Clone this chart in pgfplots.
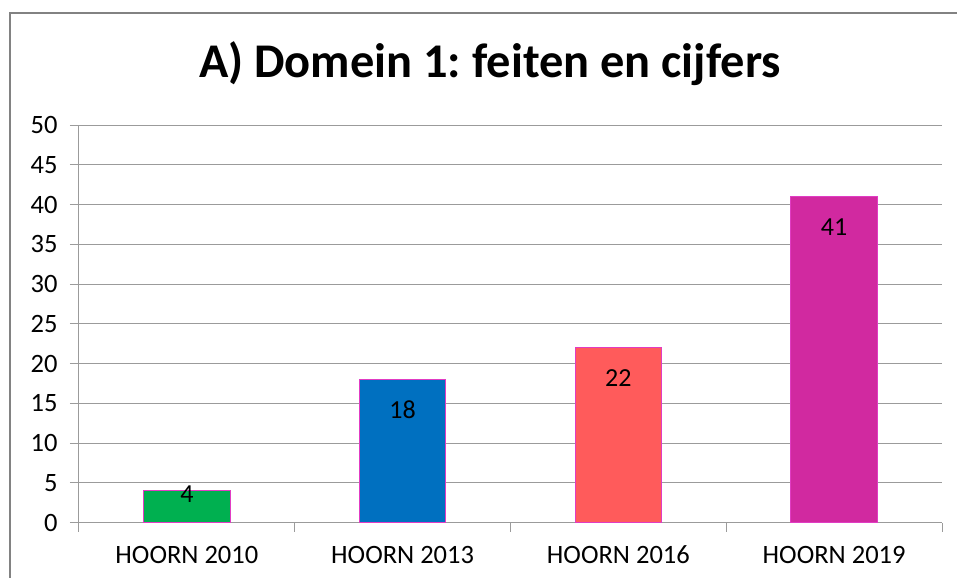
\documentclass[border=0pt]{standalone}
\usepackage{fontspec}
\setmainfont{Carlito}
\usepackage{pgfplots}
\pgfplotsset{compat=1.18}
\definecolor{cgreen}{RGB}{0,176,80}
\definecolor{cblue}{RGB}{0,112,192}
\definecolor{cred}{RGB}{255,91,91}
\definecolor{cmag}{RGB}{209,41,160}
\definecolor{cedge}{RGB}{225,60,195}
\definecolor{gridc}{RGB}{155,155,155}
\definecolor{framec}{RGB}{130,130,130}
\frenchspacing
\begin{document}
\begin{tikzpicture}
\useasboundingbox (-79bp,-55.3bp) rectangle (878bp,522.7bp);
\draw[framec, line width=1.2bp] (-69bp,-60bp) -- (-69bp,509.7bp) -- (880bp,509.7bp);
\begin{axis}[
  at={(0,0)}, anchor=south west,
  scale only axis, width=863bp, height=397.5bp,
  xmin=-0.5, xmax=3.5, ymin=0, ymax=50,
  ytick={0,5,...,50},
  xtick={-0.5,0.5,1.5,2.5,3.5},
  x tick label as interval,
  xticklabels={HOORN 2010,HOORN 2013,HOORN 2016,HOORN 2019},
  ymajorgrids, grid style={gridc, line width=1bp},
  axis lines*=left, axis line style={gridc, line width=1bp, -},
  tick align=outside, major tick length=9bp, tick style={gridc, line width=1bp},
  ybar, bar width=0.4, bar shift=0pt,
  tick label style={font=\fontsize{26.5bp}{30bp}\selectfont, black},
  yticklabel style={xshift=-9bp},
  xticklabel style={yshift=-11bp, text height=17bp, text depth=0bp},
  /pgf/number format/assume math mode=true,
  nodes near coords,
  nodes near coords align={anchor=base},
  every node near coord/.append style={font=\fontsize{26bp}{30bp}\selectfont, black, yshift=-39bp},
]
\addplot[fill=cgreen, draw=cedge, line width=1bp, every node near coord/.append style={yshift=27bp}] coordinates {(0,4)};
\addplot[fill=cblue, draw=cedge, line width=1bp] coordinates {(1,18)};
\addplot[fill=cred, draw=cedge, line width=1bp] coordinates {(2,22)};
\addplot[fill=cmag, draw=cedge, line width=1bp] coordinates {(3,41)};
\end{axis}
\node[font=\bfseries\fontsize{48.4bp}{52bp}\selectfont, anchor=base] at (411bp,444.7bp) {A) Domein 1: feiten en cijfers};
\end{tikzpicture}
\end{document}
